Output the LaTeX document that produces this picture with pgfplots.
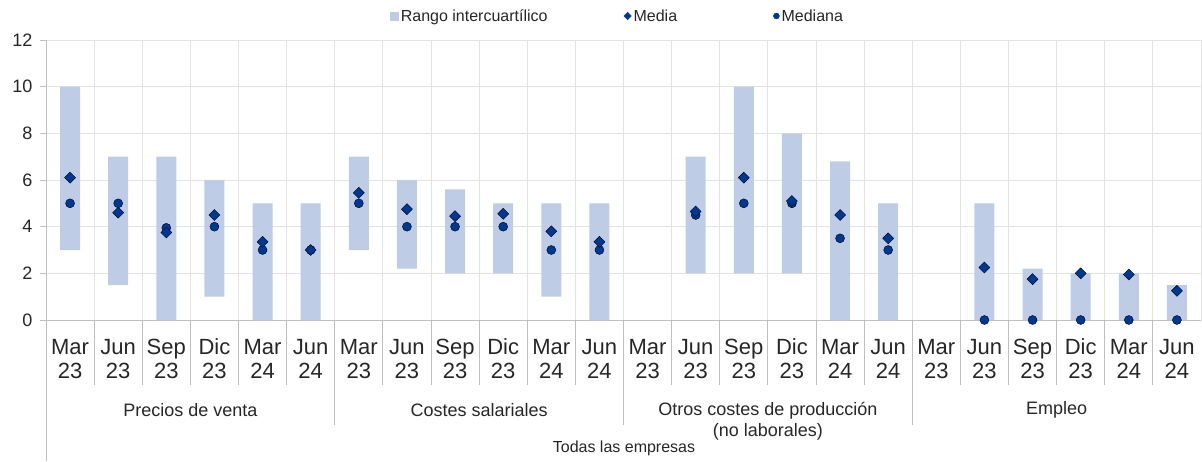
\documentclass[border=0pt]{standalone}
\usepackage{pgfplots}
\pgfplotsset{compat=1.18}
\usepackage{pgfplotstable}
\usepackage{fontspec}
\setmainfont{Liberation Sans}
\definecolor{barcol}{HTML}{BFCCE6}
\definecolor{markcol}{HTML}{003896}
\definecolor{gridcol}{HTML}{E3E3E3}
\definecolor{axcol}{HTML}{BFBFBF}
\definecolor{txtcol}{HTML}{262626}
\newcommand{\tl}[2]{\rule{0pt}{16pt}#1\\\rule{0pt}{16pt}#2}

\pgfplotstableread{
x low high media mediana
0 3 10 6.1 5
1 1.5 7 4.6 5
2 0 7 3.75 3.95
3 1 6 4.5 4
4 0 5 3.35 3
5 0 5 3.0 3
6 3 7 5.45 5
7 2.2 6 4.75 4
8 2 5.6 4.45 4
9 2 5 4.55 4
10 1 5 3.8 3
11 0 5 3.35 3
13 2 7 4.65 4.5
14 2 10 6.1 5
15 2 8 5.1 5
16 0 6.8 4.5 3.5
17 0 5 3.5 3
19 0 5 2.25 0
20 0 2.2 1.75 0
21 0 2 2.0 0
22 0 2 1.95 0
23 0 1.5 1.25 0
}\datatable

\begin{document}
\begin{tikzpicture}
\path[use as bounding box] (-46pt,-141pt) rectangle (1156pt,320pt);
\begin{axis}[
  at={(0pt,0pt)}, anchor=south west,
  scale only axis, width=1155pt, height=280pt,
  xmin=-0.5, xmax=23.5, ymin=0, ymax=12,
  ybar stacked, bar width=20pt,
  axis x line*=bottom, axis y line*=left,
  axis line style={draw=axcol, line width=0.8pt},
  major tick length=0pt, minor tick length=0pt,
  ytick={0,2,...,12},
  /pgf/number format/assume math mode=true,
  yticklabel style={font=\fontsize{18}{20}\selectfont, text=txtcol, xshift=-10pt},
  xtick={0,...,23},
  xticklabels={\tl{Mar}{23},\tl{Jun}{23},\tl{Sep}{23},\tl{Dic}{23},\tl{Mar}{24},\tl{Jun}{24},
               \tl{Mar}{23},\tl{Jun}{23},\tl{Sep}{23},\tl{Dic}{23},\tl{Mar}{24},\tl{Jun}{24},
               \tl{Mar}{23},\tl{Jun}{23},\tl{Sep}{23},\tl{Dic}{23},\tl{Mar}{24},\tl{Jun}{24},
               \tl{Mar}{23},\tl{Jun}{23},\tl{Sep}{23},\tl{Dic}{23},\tl{Mar}{24},\tl{Jun}{24}},
  xticklabel style={align=center, font=\fontsize{22}{24}\selectfont, text=txtcol, yshift=-15pt},
  minor xtick={-0.5,0.5,...,23.5},
  xminorgrids=true, ymajorgrids=true, xmajorgrids=false,
  grid style={draw=gridcol, line width=0.8pt},
  minor grid style={draw=gridcol, line width=0.8pt},
]
\addplot[draw=none, fill=none] table[x=x, y=low] {\datatable};
\addplot[draw=none, fill=barcol] table[x=x, y expr=\thisrow{high}-\thisrow{low}] {\datatable};
\end{axis}

\begin{axis}[
  at={(0pt,0pt)}, anchor=south west,
  scale only axis, width=1155pt, height=280pt,
  xmin=-0.5, xmax=23.5, ymin=0, ymax=12,
  hide axis, clip=false,
  legend columns=3,
  legend style={at={(0.495,1)}, anchor=center, yshift=24pt, draw=none, fill=none,
    font=\fontsize{16}{19}\selectfont, text=txtcol,
    /tikz/column 2/.style={column sep=74pt},
    /tikz/column 4/.style={column sep=94pt}},
]
\addlegendimage{legend image code/.code={\fill[barcol] (0pt,-4pt) rectangle (8pt,4pt);}}
\addlegendentry{Rango intercuartílico}
\addlegendimage{legend image code/.code={\fill[markcol] (4pt,-3.8pt) -- (7.8pt,0pt) -- (4pt,3.8pt) -- (0.2pt,0pt) -- cycle;}}
\addlegendentry{Media}
\addlegendimage{legend image code/.code={\fill[markcol] (3pt,0pt) circle (3pt);}}
\addlegendentry{Mediana}
\addplot[forget plot, only marks, mark=*, mark size=4.5pt, mark options={fill=markcol, draw=none}] table[x=x, y=mediana] {\datatable};
\addplot[forget plot, only marks, mark=square*, mark size=3.9pt, mark options={rotate=45, fill=markcol, draw=none}] table[x=x, y=media] {\datatable};
\end{axis}

% y ticks
\foreach \k in {0,...,6} {\draw[axcol, line width=0.8pt] (-6pt,\k*46.6667pt) -- (0pt,\k*46.6667pt);}
% category separators
\foreach \k in {1,2,3,4,5,7,8,9,10,11,13,14,15,16,17,19,20,21,22,23} {
  \draw[axcol, line width=0.8pt] (\k*48.125pt,0pt) -- (\k*48.125pt,-65pt);
}
\foreach \k in {6,12,18} {
  \draw[axcol, line width=0.8pt] (\k*48.125pt,0pt) -- (\k*48.125pt,-105pt);
}
\draw[axcol, line width=0.8pt] (0pt,0pt) -- (0pt,-141pt);

\begin{scope}[every node/.style={text=txtcol, font=\fontsize{18}{21}\selectfont, align=center}]
\node at (144.4pt,-90pt) {Precios de venta};
\node at (433.1pt,-90pt) {Costes salariales};
\node at (721.9pt,-101pt) {Otros costes de producción\\(no laborales)};
\node at (1010.6pt,-90pt) {Empleo};
\end{scope}
\node[text=txtcol, font=\fontsize{16}{19}\selectfont] at (578pt,-128pt) {Todas las empresas};
\end{tikzpicture}
\end{document}
